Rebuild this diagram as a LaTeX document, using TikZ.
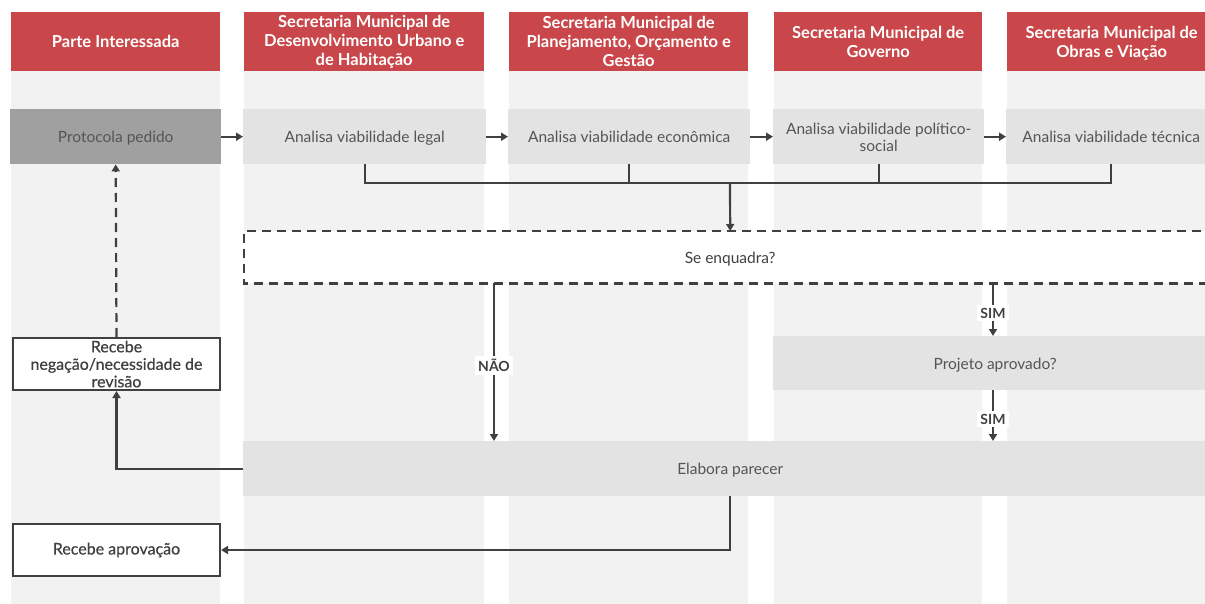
\documentclass[tikz,border=0pt]{standalone}
\usepackage{fontspec}
\setmainfont{Lato}
\newfontfamily\medfont{Lato}[FakeBold=0.5]
\usetikzlibrary{arrows.meta}
\definecolor{hdr}{HTML}{C9474A}
\definecolor{lanebg}{HTML}{F2F2F2}
\definecolor{stepfill}{HTML}{E3E3E3}
\definecolor{startfill}{HTML}{A0A0A0}
\definecolor{ink}{HTML}{404040}
\definecolor{txt}{HTML}{555555}
\newcommand{\hdrfont}{\fontsize{16.5}{19}\selectfont\bfseries}
\newcommand{\bodyfont}{\fontsize{15.5}{17}\selectfont}
\newcommand{\outfont}{\fontsize{16}{17.5}\selectfont\medfont}
% set a label a little lower without changing its reported size
\newcommand{\lowtext}[1]{\raisebox{-2.5pt}[\height][\depth]{\begin{tabular}{@{}c@{}}#1\end{tabular}}}
\begin{document}
\begin{tikzpicture}[x=1pt,y=-1pt,
  header/.style={fill=hdr,text=white,font=\hdrfont,align=center,inner sep=0pt,
    anchor=north west,minimum height=59},
  stepbox/.style={fill=stepfill,text=txt,font=\bodyfont,align=center,inner sep=0pt,
    anchor=north west,minimum height=55},
  startbox/.style={stepbox,fill=startfill},
  outbox/.style={draw=ink,line width=2,fill=white,text=ink,font=\outfont,
    align=center,inner sep=0pt,anchor=north west,minimum width=207,minimum height=52},
  conn/.style={draw=ink,line width=2.2},
  arrow/.style={conn,-{Triangle[width=8,length=7]}},
  dashline/.style={conn,dash pattern=on 9 off 6},
  answer/.style={fill=white,text=ink,font=\fontsize{14}{15}\selectfont\bfseries,
    inner sep=3pt,yshift=-3.5}]
\useasboundingbox (0,0) rectangle (1205,604);

% swimlane backgrounds
\fill[lanebg] (11,71) rectangle (220,604);
\fill[lanebg] (244,71) rectangle (484,604);
\fill[lanebg] (509,71) rectangle (748,604);
\fill[lanebg] (774,71) rectangle (982,604);
\fill[lanebg] (1007,71) rectangle (1216,604);

% lane headers
\node[header,minimum width=209] (h1) at (11,12) {Parte Interessada};
\node[header,minimum width=240] (h2) at (244,12) {Secretaria Municipal de\\Desenvolvimento Urbano e\\de Habitação};
\node[header,minimum width=239] (h3) at (509,12) {Secretaria Municipal de\\Planejamento, Orçamento e\\Gestão};
\node[header,minimum width=208] (h4) at (774,12) {Secretaria Municipal de\\Governo};
\node[header,minimum width=209] (h5) at (1007,12) {\lowtext{Secretaria Municipal de\\Obras e Viação}};

% first row of steps
\node[startbox,minimum width=211] (p1) at (10,109) {\lowtext{Protocola pedido}};
\node[stepbox,minimum width=243] (a1) at (243,109) {\lowtext{Analisa viabilidade legal}};
\node[stepbox,minimum width=242] (a2) at (508,109) {\lowtext{Analisa viabilidade econômica}};
\node[stepbox,minimum width=211] (a3) at (773,109) {\lowtext{Analisa viabilidade político-\\social}};
\node[stepbox,minimum width=210] (a4) at (1006,109) {\lowtext{Analisa viabilidade técnica}};

\draw[arrow] (p1.east) -- (a1.west);
\draw[arrow] (a1.east) -- (a2.west);
\draw[arrow] (a2.east) -- (a3.west);
\draw[arrow] (a3.east) -- (a4.west);

% decision, approval and report
\node[inner sep=0pt,anchor=north west,minimum width=972,minimum height=52,
  fill=white,text=ink,font=\bodyfont] (q1) at (244,231) {\lowtext{Se enquadra?}};
\draw[dashline] (q1.north east) -- (q1.north west) -- (q1.south west) -- (q1.south east);
\node[stepbox,minimum width=444,minimum height=54] (q2) at (773,336) {\lowtext{Projeto aprovado?}};
\node[stepbox,minimum width=974] (el) at (243,441) {\lowtext{Elabora parecer}};

% outcomes for the interested party
\node[outbox] (rn) at (12,337) {Recebe\\negação/necessidade de\\revisão};
\node[outbox] (ra) at (12,523) {Recebe aprovação};

% merge of the four analyses
\coordinate (bus) at (0,183);
\coordinate (mid) at (730,183);
\draw[conn] (a1.south) -- (a1.south |- bus) -- (a4.south |- bus) -- (a4.south);
\draw[conn] (a2.south) -- (a2.south |- bus);
\draw[conn] (a3.south) -- (a3.south |- bus);
\draw[arrow] (mid) -- (q1.north);

% answers
\coordinate (xno) at (494,0);
\coordinate (xyes) at (993,0);
\draw[arrow] (q1.south -| xno) -- node[answer] {NÃO} (el.north -| xno);
\draw[arrow] (q1.south -| xyes) -- node[answer] {SIM} (q2.north -| xyes);
\draw[arrow] (q2.south -| xyes) -- node[answer] {SIM} (el.north -| xyes);

% feedback to the interested party
\draw[arrow] (el.west) -| (rn.south);
\draw[arrow,dash pattern=on 9 off 6] (rn.north) -- (p1.south);
\draw[arrow] (el.south) |- (ra.east);
\end{tikzpicture}
\end{document}
